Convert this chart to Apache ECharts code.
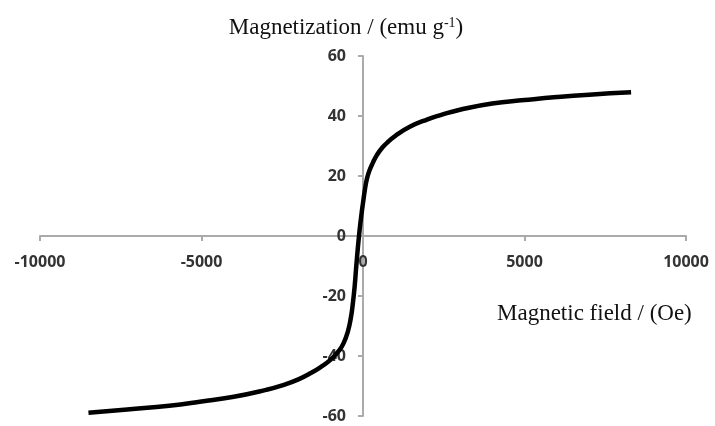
<!DOCTYPE html>
<html>
<head>
<meta charset="utf-8">
<script src="https://cdn.jsdelivr.net/npm/echarts@6/dist/echarts.min.js"></script>
<style>
  html, body { margin: 0; padding: 0; background: #fff; }
  #chart { width: 715px; height: 426px; }
</style>
</head>
<body>
<div id="chart"></div>
<script>
// field (Oe) and magnetization (emu/g)
var field = [-8500, -7300, -6000, -5000, -4000, -3000, -2500, -2000, -1600, -1300,
             -1000, -750, -600, -460, -380, -320, -260, -200, -124, -50,
             0, 60, 120, 200, 300, 420, 600, 800, 1000, 1450,
             2000, 2400, 3000, 4000, 5000, 6000, 7000, 8300];
var magnetization = [-58.9, -57.8, -56.6, -55.2, -53.6, -51.3, -49.8, -47.8, -45.6, -43.6,
                     -41.2, -38.3, -35.7, -31.5, -27.5, -23.0, -17.0, -9.0, 0, 7.0,
                     11.0, 15.5, 19.0, 21.8, 24.3, 26.8, 29.5, 31.6, 33.4, 36.4,
                     38.9, 40.3, 42.1, 44.2, 45.3, 46.3, 47.1, 47.9];

var xTicks = [-10000, 10000, 5000];   // min, max, interval
var yTicks = [-60, 60, 20];

var points = [];
for (var i = 0; i < field.length; i++) {
    points.push([field[i], magnetization[i]]);
}

var chart = echarts.init(document.getElementById('chart'));

var gridLeft = 40, gridRight = 29, gridTop = 56, gridBottom = 10;
var gridW = 715 - gridLeft - gridRight;
var gridH = 426 - gridTop - gridBottom;

var tickLabel = {
    color: '#333',
    fontFamily: 'Open Sans',
    fontWeight: 'bold',
    fontSize: 16,
    formatter: function (v) { return String(v); }
};

var option = {
    backgroundColor: '#fff',
    animation: false,
    grid: { left: gridLeft, right: gridRight, top: gridTop, bottom: gridBottom,
            containLabel: false, outerBoundsMode: 'none' },
    xAxis: {
        type: 'value',
        min: xTicks[0], max: xTicks[1], interval: xTicks[2],
        // put the axis through y = 0
        offset: -gridH / 2,
        name: 'Magnetic field / (Oe)',
        nameLocation: 'end',
        nameGap: -189,
        nameTextStyle: {
            fontFamily: 'Liberation Serif', fontSize: 23, color: '#111',
            align: 'left', verticalAlign: 'top',
            padding: [66, 0, 0, 0]
        },
        axisLine: { onZero: false, lineStyle: { color: '#aaa', width: 2 } },
        axisTick: { show: true, length: 5, lineStyle: { color: '#aaa', width: 2 } },
        axisLabel: Object.assign({ margin: 18 }, tickLabel),
        splitLine: { show: false }
    },
    yAxis: {
        type: 'value',
        min: yTicks[0], max: yTicks[1], interval: yTicks[2],
        // put the axis through x = 0
        offset: -gridW / 2,
        name: '{a|Magnetization / (emu g}{s|-1}{a|)}',
        nameLocation: 'end',
        nameGap: 17,
        nameTextStyle: {
            padding: [0, 34, 0, 0],
            rich: {
                a: { fontFamily: 'Liberation Serif', fontSize: 23, color: '#111' },
                s: { fontFamily: 'Liberation Serif', fontSize: 14, color: '#111', verticalAlign: 'top', padding: [0, 0, 9, 0] }
            }
        },
        axisLine: { onZero: false, lineStyle: { color: '#aaa', width: 2 } },
        axisTick: { show: true, length: 5, lineStyle: { color: '#aaa', width: 2 } },
        axisLabel: Object.assign({ margin: 17 }, tickLabel),
        splitLine: { show: false }
    },
    series: [{
        type: 'line',
        data: points,
        smooth: 0.5,
        showSymbol: false,
        lineStyle: { color: '#000', width: 4.5 }
    }]
};

chart.setOption(option);
</script>
</body>
</html>
